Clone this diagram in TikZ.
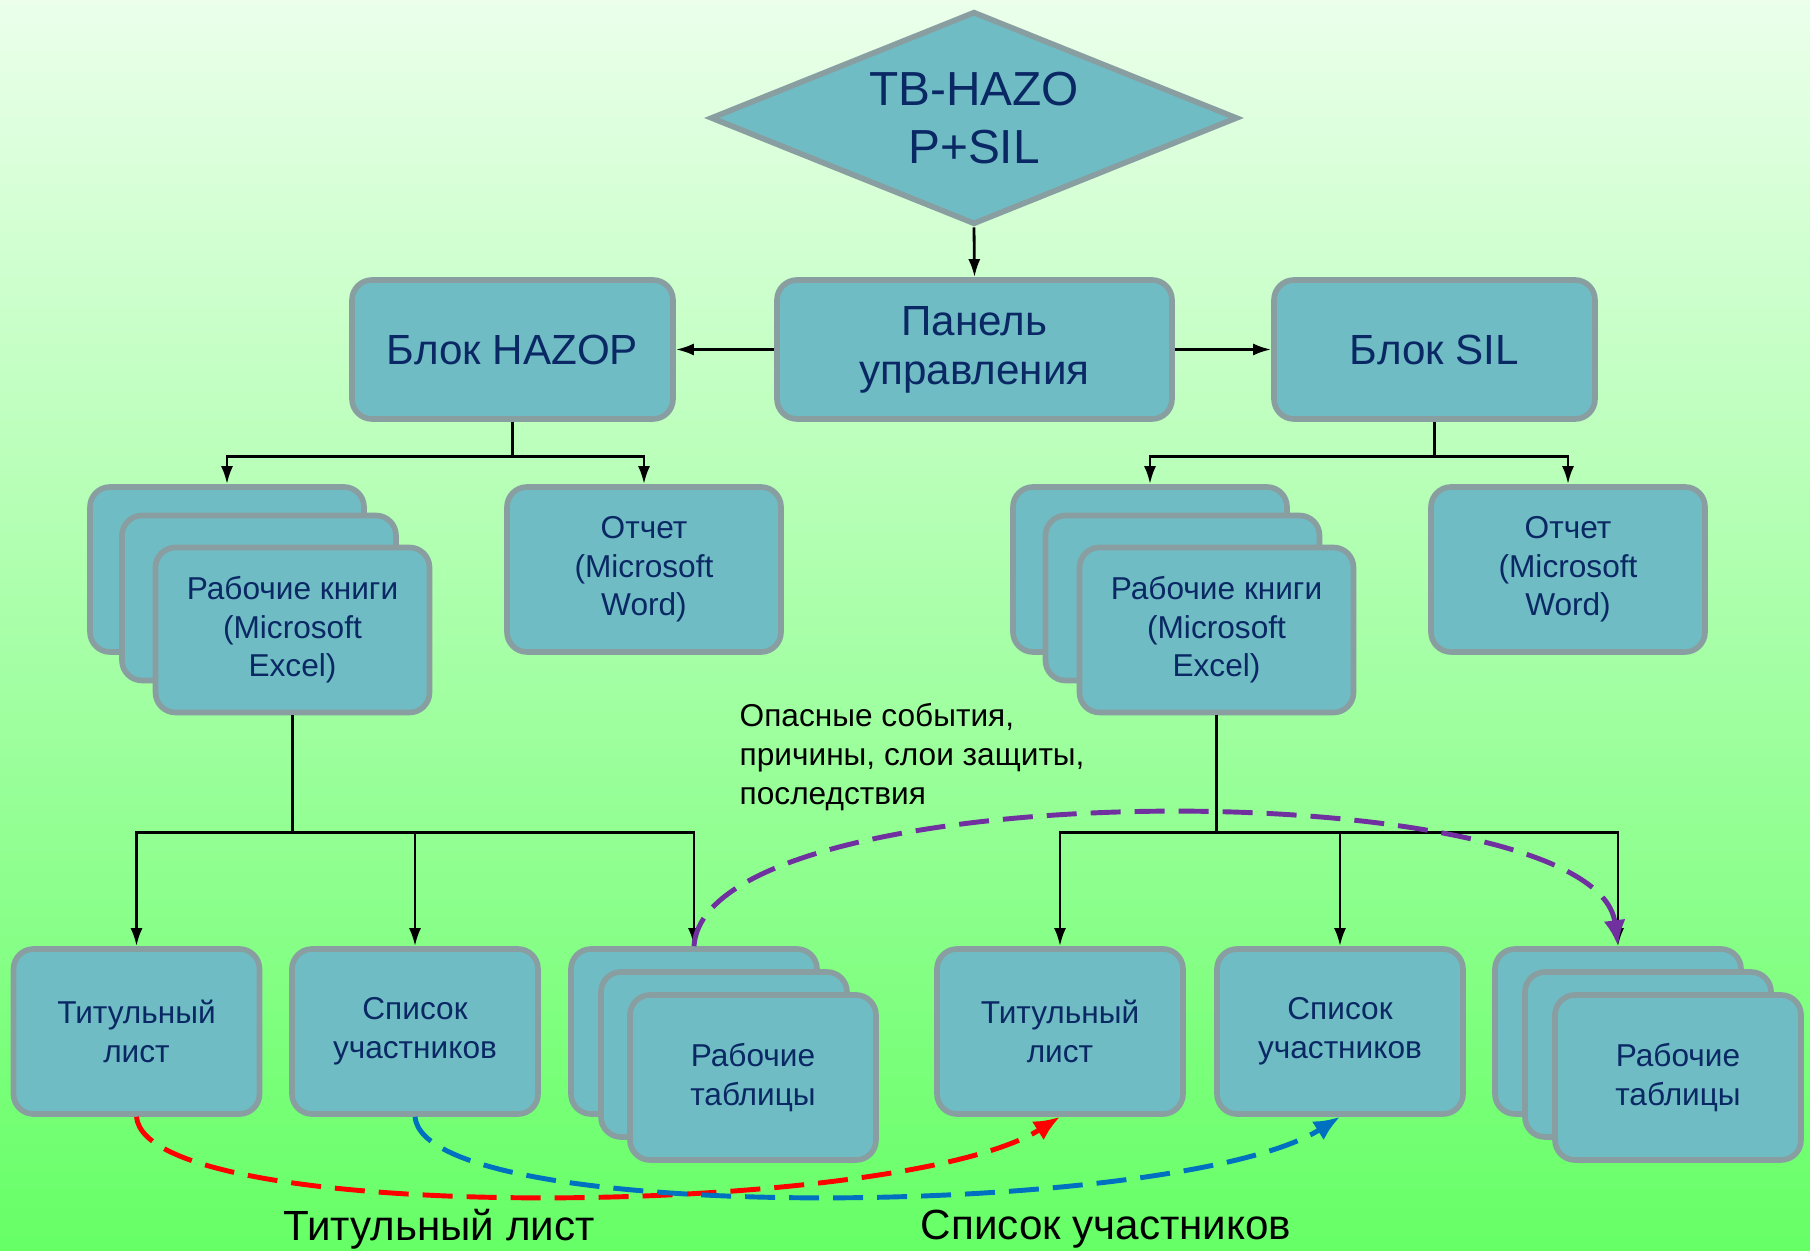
\documentclass[tikz,border=0pt]{standalone}
\usepackage{fontspec}
\setmainfont{Liberation Sans}
\usepackage{xcolor}
\usetikzlibrary{positioning,shapes.geometric,arrows.meta}
\definecolor{bgtop}{HTML}{EBFFEB}
\definecolor{bgbot}{HTML}{66FF66}
\definecolor{boxfill}{HTML}{70BCC4}
\definecolor{boxline}{HTML}{889EA0}
\definecolor{boxtext}{HTML}{0A2864}
\definecolor{linkred}{HTML}{FF0000}
\definecolor{linkblue}{HTML}{0070C0}
\definecolor{linkpurple}{HTML}{7030A0}

\begin{document}
\begin{tikzpicture}[
  block/.style = {rectangle, rounded corners=0.2cm, draw=boxline, line width=1.6pt, fill=boxfill, text=boxtext, align=center, inner sep=0pt},
  bigblock/.style = {block, minimum width=3.21cm, minimum height=1.39cm, font=\fontsize{12}{14}\selectfont},
  doc/.style = {block, minimum width=2.74cm, minimum height=1.65cm, font=\fontsize{9}{11}\selectfont},
  sheet/.style = {block, minimum width=2.46cm, minimum height=1.65cm, font=\fontsize{9}{11}\selectfont},
  tree/.style = {line width=0.8pt, -{Latex[length=1.8mm,width=1.2mm]}},
  link/.style = {line width=1.4pt, dash pattern=on 0.3cm off 0.14cm, -{Latex[length=2.6mm,width=2.2mm]}}]
  \useasboundingbox (0,0) rectangle (18.10,-12.51);
  \shade[top color=bgtop, bottom color=bgbot] (0,0) rectangle (18.10,-12.51);

  % top
  \node[diamond, aspect=2.47, draw=boxline, line width=1.6pt, fill=boxfill, text=boxtext, inner sep=0pt,
        minimum width=5.27cm, minimum height=2.13cm, align=center, font=\fontsize{13.6}{16.4}\selectfont] (tb) at (9.74,-1.18) {TB-HAZO\\P+SIL};
  \node[bigblock, minimum width=3.95cm] (panel) at (9.745,-3.495) {Панель\\управления};
  \node[bigblock] (hazop) at (5.125,-3.495) {Блок HAZOP};
  \node[bigblock] (sil) at (14.345,-3.495) {Блок SIL};

  \draw[tree] (tb.south) -- (panel.north);
  \draw[tree] (panel.west) -- (hazop.east);
  \draw[tree] (panel.east) -- (sil.west);

  % workbooks and reports
  \node[doc] (wbl3) at (2.27,-5.695) {};
  \node[doc] (wbl2) at (2.59,-5.98) {};
  \node[doc] (wbl) at (2.925,-6.30) {Рабочие книги\\(Microsoft\\Excel)};
  \node[doc] (repl) at (6.44,-5.695) {Отчет\\(Microsoft\\Word)};

  \node[doc] (wbr3) at (11.50,-5.695) {};
  \node[doc] (wbr2) at (11.825,-5.98) {};
  \node[doc] (wbr) at (12.165,-6.30) {Рабочие книги\\(Microsoft\\Excel)};
  \node[doc] (repr) at (15.68,-5.695) {Отчет\\(Microsoft\\Word)};

  \coordinate (hj) at ([yshift=-0.35cm]hazop.south);
  \coordinate (sj) at ([yshift=-0.35cm]sil.south);
  \draw[line width=0.8pt] (hazop.south) -- (hj);
  \draw[tree] (hj) -| (wbl3.north);
  \draw[tree] (hj) -| (repl.north);
  \draw[line width=0.8pt] (sil.south) -- (sj);
  \draw[tree] (sj) -| (wbr3.north);
  \draw[tree] (sj) -| (repr.north);

  % sheets
  \node[sheet] (tl1) at (1.365,-10.315) {Титульный\\лист};
  \node[sheet] (su1) at (4.15,-10.315) {Список\\участников};
  \node[sheet] (wtl3) at (6.94,-10.315) {};
  \node[sheet] (wtl2) at (7.24,-10.545) {};
  \node[sheet] (wtl) at (7.53,-10.775) {Рабочие\\таблицы};

  \node[sheet] (tl2) at (10.60,-10.315) {Титульный\\лист};
  \node[sheet] (su2) at (13.40,-10.315) {Список\\участников};
  \node[sheet] (wtr3) at (16.18,-10.315) {};
  \node[sheet] (wtr2) at (16.48,-10.545) {};
  \node[sheet] (wtr) at (16.78,-10.775) {Рабочие\\таблицы};

  \coordinate (wlj) at ([yshift=-1.175cm]wbl.south);
  \coordinate (wrj) at ([yshift=-1.175cm]wbr.south);
  \draw[line width=0.8pt] (wbl.south) -- (wlj);
  \draw[tree] (wlj) -| (tl1.north);
  \draw[tree] (wlj) -| (su1.north);
  \draw[tree] (wlj) -| (wtl3.north);
  \draw[line width=0.8pt] (wbr.south) -- (wrj);
  \draw[tree] (wrj) -| (tl2.north);
  \draw[tree] (wrj) -| (su2.north);
  \draw[tree] (wrj) -| (wtr3.north);

  \node[anchor=west, align=left, inner sep=0pt, font=\fontsize{9}{11}\selectfont] (risk) at (7.39,-7.57) {Опасные события,\\причины, слои защиты,\\последствия};

  % transfers
  \draw[link, draw=linkpurple] (wtl3.north) .. controls +(0.11,1.76) and +(-0.23,1.76) .. (wtr3.north);
  \draw[link, draw=linkred] (tl1.south) .. controls +(0.10,-1.11) and +(-1.60,-1.01) .. (tl2.south);
  \draw[link, draw=linkblue] (su1.south) .. controls +(0.10,-1.11) and +(-1.60,-1.01) .. (su2.south);

  \node[font=\fontsize{12}{14}\selectfont] (tltext) at (4.39,-12.29) {Титульный лист};
  \node[font=\fontsize{12}{14}\selectfont] (sutext) at (11.06,-12.29) {Список участников};
\end{tikzpicture}
\end{document}
